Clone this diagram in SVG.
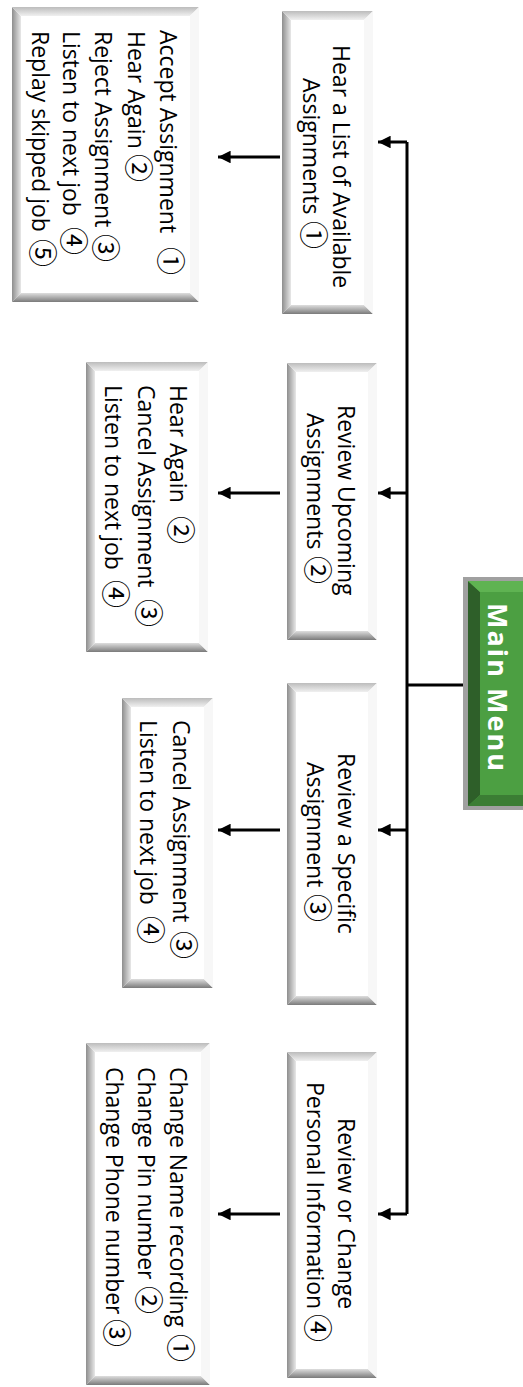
<svg xmlns="http://www.w3.org/2000/svg" width="523" height="1387" viewBox="0 0 523 1387">
<style>
.t{font-family:"Open Sans","Liberation Sans",sans-serif;font-size:23px;fill:#000}
.c{font-family:"Noto Sans CJK JP","DejaVu Sans",sans-serif;font-size:28px}
.mm{font-family:"Open Sans","Liberation Sans",sans-serif;font-weight:bold;font-size:27px;fill:#fff}
.bl{fill:url(#gl)}.bt{fill:url(#gt)}.bb{fill:url(#gb)}.br{fill:#f7f7f7}
.body{fill:#fff}
.ln{stroke:#000;stroke-width:3;fill:none}
</style>
<defs>
<linearGradient id="gl" x1="0" y1="0" x2="1" y2="0"><stop offset="0" stop-color="#8e8e8e"/><stop offset="1" stop-color="#e8e8e8"/></linearGradient>
<linearGradient id="gt" x1="0" y1="0" x2="0" y2="1"><stop offset="0" stop-color="#bcbcbc"/><stop offset="1" stop-color="#f0f0f0"/></linearGradient>
<linearGradient id="gb" x1="0" y1="1" x2="0" y2="0"><stop offset="0" stop-color="#7a7a7a"/><stop offset="1" stop-color="#dedede"/></linearGradient>
<marker id="ah" viewBox="0 0 10 10" refX="10" refY="5" markerWidth="4.2" markerHeight="4.2" markerUnits="strokeWidth" orient="auto"><path d="M0,0 L10,5 L0,10 z" fill="#000"/></marker>
</defs>

<g id="connectors">
<path class="ln" d="M466,685 H407" stroke-width="4"/>
<path class="ln" d="M407,142 V1214"/>
<path class="ln" d="M407,142 H378" marker-end="url(#ah)"/>
<path class="ln" d="M407,493 H378" marker-end="url(#ah)"/>
<path class="ln" d="M407,830 H378" marker-end="url(#ah)"/>
<path class="ln" d="M407,1214 H378" marker-end="url(#ah)"/>
<path class="ln" d="M280,157 H218" marker-end="url(#ah)"/>
<path class="ln" d="M280,493 H218" marker-end="url(#ah)"/>
<path class="ln" d="M280,830 H218" marker-end="url(#ah)"/>
<path class="ln" d="M280,1214 H218" marker-end="url(#ah)"/>
</g>

<g id="main-menu">
<rect x="463" y="577" width="60" height="233" fill="#a0a0a0"/>
<rect x="468" y="581" width="55" height="225" fill="#4c9f42"/>
<polygon points="468,581 480,592 480,795 468,806" fill="#2e5f29"/>
<polygon points="468,581 523,581 523,592 480,592" fill="#5fb352"/>
<polygon points="468,806 480,795 523,795 523,806" fill="#3b7d34"/>
<text class="mm" transform="translate(488,603) rotate(90)" textLength="168" lengthAdjust="spacing">Main Menu</text>
</g>

<g id="node-available">
<rect class="body" x="282" y="11" width="91" height="303"/>
<polygon class="bl" points="282,11 291,20 291,305 282,314"/>
<polygon class="bt" points="282,11 373,11 364,20 291,20"/>
<polygon class="bb" points="282,314 291,305 364,305 373,314"/>
<polygon class="br" points="373,11 373,314 364,305 364,20"/>
<text class="t" transform="translate(333,45) rotate(90)">Hear a List of Available</text>
<text class="t" transform="translate(303,78) rotate(90)">Assignments <tspan class="c" x="143">①</tspan></text>
</g>

<g id="node-upcoming">
<rect class="body" x="287" y="363" width="90" height="277"/>
<polygon class="bl" points="287,363 296,372 296,631 287,640"/>
<polygon class="bt" points="287,363 377,363 368,372 296,372"/>
<polygon class="bb" points="287,640 296,631 368,631 377,640"/>
<polygon class="br" points="377,363 377,640 368,631 368,372"/>
<text class="t" transform="translate(338,405) rotate(90)">Review Upcoming</text>
<text class="t" transform="translate(307,413) rotate(90)">Assignments <tspan class="c" x="143">②</tspan></text>
</g>

<g id="node-specific">
<rect class="body" x="287" y="683" width="90" height="322"/>
<polygon class="bl" points="287,683 296,692 296,996 287,1005"/>
<polygon class="bt" points="287,683 377,683 368,692 296,692"/>
<polygon class="bb" points="287,1005 296,996 368,996 377,1005"/>
<polygon class="br" points="377,683 377,1005 368,996 368,692"/>
<text class="t" transform="translate(338,753) rotate(90)">Review a Specific</text>
<text class="t" transform="translate(307,762) rotate(90)">Assignment <tspan class="c" x="132">③</tspan></text>
</g>

<g id="node-personal">
<rect class="body" x="287" y="1052" width="90" height="326"/>
<polygon class="bl" points="287,1052 296,1061 296,1369 287,1378"/>
<polygon class="bt" points="287,1052 377,1052 368,1061 296,1061"/>
<polygon class="bb" points="287,1378 296,1369 368,1369 377,1378"/>
<polygon class="br" points="377,1052 377,1378 368,1369 368,1061"/>
<text class="t" transform="translate(338,1118) rotate(90)">Review or Change</text>
<text class="t" transform="translate(307,1082) rotate(90)">Personal Information <tspan class="c" x="232">④</tspan></text>
</g>

<g id="options-available">
<rect class="body" x="12" y="7" width="187" height="295"/>
<polygon class="bl" points="12,7 21,16 21,293 12,302"/>
<polygon class="bt" points="12,7 199,7 190,16 21,16"/>
<polygon class="bb" points="12,302 21,293 190,293 199,302"/>
<polygon class="br" points="199,7 199,302 190,293 190,16"/>
<text class="t" transform="translate(160,30) rotate(90)">Accept Assignment <tspan class="c" x="217">①</tspan></text>
<text class="t" transform="translate(128,31) rotate(90)">Hear Again <tspan class="c" x="123">②</tspan></text>
<text class="t" transform="translate(95,31) rotate(90)">Reject Assignment <tspan class="c" x="203">③</tspan></text>
<text class="t" transform="translate(63,31) rotate(90)">Listen to next job <tspan class="c" x="196">④</tspan></text>
<text class="t" transform="translate(32,31) rotate(90)">Replay skipped job <tspan class="c" x="208">⑤</tspan></text>
</g>

<g id="options-upcoming">
<rect class="body" x="86" y="362" width="122" height="290"/>
<polygon class="bl" points="86,362 95,371 95,643 86,652"/>
<polygon class="bt" points="86,362 208,362 199,371 95,371"/>
<polygon class="bb" points="86,652 95,643 199,643 208,652"/>
<polygon class="br" points="208,362 208,652 199,643 199,371"/>
<text class="t" transform="translate(170,385) rotate(90)">Hear Again <tspan class="c" x="131">②</tspan></text>
<text class="t" transform="translate(138,385) rotate(90)">Cancel Assignment <tspan class="c" x="214">③</tspan></text>
<text class="t" transform="translate(105,385) rotate(90)">Listen to next job <tspan class="c" x="195">④</tspan></text>
</g>

<g id="options-specific">
<rect class="body" x="122" y="698" width="91" height="290"/>
<polygon class="bl" points="122,698 131,707 131,979 122,988"/>
<polygon class="bt" points="122,698 213,698 204,707 131,707"/>
<polygon class="bb" points="122,988 131,979 204,979 213,988"/>
<polygon class="br" points="213,698 213,988 204,979 204,707"/>
<text class="t" transform="translate(173,720) rotate(90)">Cancel Assignment <tspan class="c" x="211">③</tspan></text>
<text class="t" transform="translate(140,720) rotate(90)">Listen to next job <tspan class="c" x="196">④</tspan></text>
</g>

<g id="options-personal">
<rect class="body" x="86" y="1043" width="124" height="342"/>
<polygon class="bl" points="86,1043 95,1052 95,1376 86,1385"/>
<polygon class="bt" points="86,1043 210,1043 201,1052 95,1052"/>
<polygon class="bb" points="86,1385 95,1376 201,1376 210,1385"/>
<polygon class="br" points="210,1043 210,1385 201,1376 201,1052"/>
<text class="t" transform="translate(170,1067) rotate(90)">Change Name recording <tspan class="c" x="267">①</tspan></text>
<text class="t" transform="translate(138,1067) rotate(90)">Change Pin number <tspan class="c" x="219">②</tspan></text>
<text class="t" transform="translate(106,1067) rotate(90)">Change Phone number <tspan class="c" x="252">③</tspan></text>
</g>
</svg>
